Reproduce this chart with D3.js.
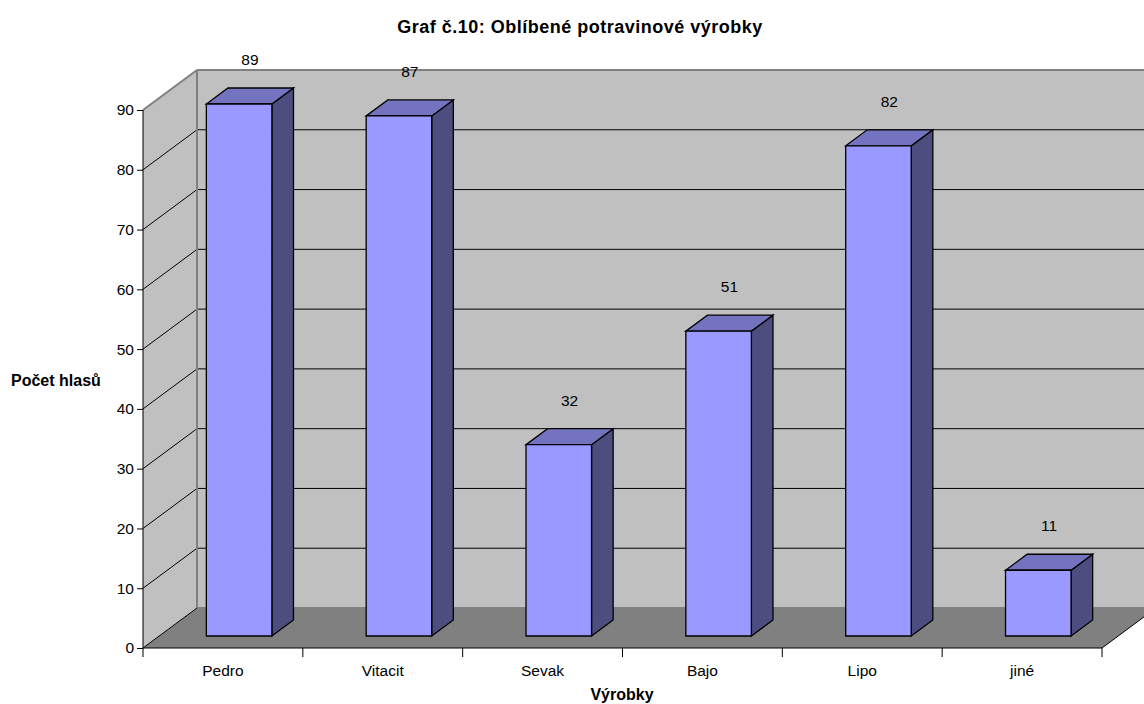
<!DOCTYPE html>
<html>
<head>
<meta charset="utf-8">
<script src="https://cdn.jsdelivr.net/npm/d3@7"></script>
<style>
  body { margin: 0; background: #fff; }
  text { font-family: "Liberation Sans", Arial, sans-serif; fill: #000; }
</style>
</head>
<body>
<div id="chart"></div>
<script>
// data
const categories = ["Pedro", "Vitacit", "Sevak", "Bajo", "Lipo", "jiné"];
const votes = [89, 87, 32, 51, 82, 11];
const yTicks = [0, 10, 20, 30, 40, 50, 60, 70, 80, 90];

const W = 1144, H = 704;
// 3d depth offset of the back wall
const depthX = 54, depthY = -40;
const fontSize = "15.5px";

const svg = d3.select("#chart").append("svg")
    .attr("width", W)
    .attr("height", H);

const x = d3.scaleBand()
    .domain(categories)
    .range([143, 1102])
    .padding(0);

const y = d3.scaleLinear()
    .domain([0, 90])
    .range([648, 110]);

// point at value v, front x position px, depth fraction t (0 = front, 1 = back)
function pt(px, v, t) {
  return [px + depthX * t, y(v) + depthY * t];
}
function poly(points) {
  return points.map(p => p.join(",")).join(" ");
}

const x0 = x.range()[0], x1 = x.range()[1];

// left side wall
svg.append("polygon")
    .attr("points", poly([pt(x0, 0, 0), pt(x0, 90, 0), pt(x0, 90, 1), pt(x0, 0, 1)]))
    .attr("fill", "#c0c0c0");

// back wall
svg.append("polygon")
    .attr("points", poly([pt(x0, 0, 1), pt(x0, 90, 1), pt(x1, 90, 1), pt(x1, 0, 1)]))
    .attr("fill", "#c0c0c0");

// floor
svg.append("polygon")
    .attr("points", poly([pt(x0, 0, 0), pt(x0, 0, 1), pt(x1, 0, 1), pt(x1, 0, 0)]))
    .attr("fill", "#808080");

// gridlines on back wall and side wall
yTicks.filter(d => d > 0).forEach(d => {
  const a = pt(x0, d, 1), b = pt(x1, d, 1), f = pt(x0, d, 0);
  svg.append("line")
      .attr("x1", a[0]).attr("y1", a[1])
      .attr("x2", b[0]).attr("y2", b[1])
      .attr("stroke", d === 90 ? "#808080" : "#000")
      .attr("stroke-width", d === 90 ? 2 : 1);
  svg.append("line")
      .attr("x1", f[0]).attr("y1", f[1])
      .attr("x2", a[0]).attr("y2", a[1])
      .attr("stroke", d === 90 ? "#808080" : "#000")
      .attr("stroke-width", d === 90 ? 2 : 1);
});

// wall edges
svg.append("line")
    .attr("x1", pt(x0, 0, 1)[0]).attr("y1", pt(x0, 0, 1)[1])
    .attr("x2", pt(x0, 90, 1)[0]).attr("y2", pt(x0, 90, 1)[1])
    .attr("stroke", "#808080").attr("stroke-width", 2);
svg.append("line")
    .attr("x1", pt(x0, 0, 1)[0]).attr("y1", pt(x0, 0, 1)[1])
    .attr("x2", pt(x1, 0, 1)[0]).attr("y2", pt(x1, 0, 1)[1])
    .attr("stroke", "#808080").attr("stroke-width", 2);

// floor edges
svg.append("line")
    .attr("x1", pt(x0, 0, 0)[0]).attr("y1", pt(x0, 0, 0)[1])
    .attr("x2", pt(x0, 0, 1)[0]).attr("y2", pt(x0, 0, 1)[1])
    .attr("stroke", "#000");
svg.append("line")
    .attr("x1", pt(x1, 0, 0)[0]).attr("y1", pt(x1, 0, 0)[1])
    .attr("x2", pt(x1, 0, 1)[0]).attr("y2", pt(x1, 0, 1)[1])
    .attr("stroke", "#000");

// y axis
svg.append("g")
    .attr("transform", "translate(" + x0 + ",0)")
    .call(d3.axisLeft(y).tickValues(yTicks).tickSize(6).tickPadding(3))
    .call(g => g.selectAll("text").style("font-size", fontSize).style("font-family", "Liberation Sans, Arial, sans-serif"))
    .call(g => g.select(".domain").attr("d", "M0," + y(90) + "V" + y(0)));

// x axis
svg.append("g")
    .attr("transform", "translate(0," + y(0) + ")")
    .call(d3.axisBottom(x).tickSize(0).tickPadding(17))
    .call(g => g.selectAll("text").style("font-size", fontSize).style("font-family", "Liberation Sans, Arial, sans-serif"))
    .call(g => g.select(".domain").attr("d", "M" + x0 + ",0H" + x1));

// category separator ticks
svg.append("g")
    .selectAll("line")
    .data(categories.concat(["end"]))
    .join("line")
    .attr("x1", (d, i) => i < categories.length ? x(d) : x1)
    .attr("x2", (d, i) => i < categories.length ? x(d) : x1)
    .attr("y1", y(0))
    .attr("y2", y(0) + 9)
    .attr("stroke", "#000");

// 3d bars
const barW = x.bandwidth() * 0.41;
const t0 = 0.3, t1 = 0.7;

const bars = svg.append("g")
    .selectAll("g")
    .data(votes)
    .join("g");

bars.each(function(v, i) {
  const g = d3.select(this);
  const cx = x(categories[i]) + x.bandwidth() / 2;
  const l = cx - barW / 2, r = cx + barW / 2;
  // right side
  g.append("polygon")
      .attr("points", poly([pt(r, 0, t0), pt(r, v, t0), pt(r, v, t1), pt(r, 0, t1)]))
      .attr("fill", "#4d4d80").attr("stroke", "#000").attr("stroke-width", 1.3);
  // top
  g.append("polygon")
      .attr("points", poly([pt(l, v, t0), pt(r, v, t0), pt(r, v, t1), pt(l, v, t1)]))
      .attr("fill", "#7373bf").attr("stroke", "#000").attr("stroke-width", 1.3);
  // front
  g.append("polygon")
      .attr("points", poly([pt(l, 0, t0), pt(l, v, t0), pt(r, v, t0), pt(r, 0, t0)]))
      .attr("fill", "#9999ff").attr("stroke", "#000").attr("stroke-width", 1.3);
  // value label
  const lp = pt(cx, v, 0.5);
  g.append("text")
      .attr("x", lp[0])
      .attr("y", lp[1] - 31)
      .attr("text-anchor", "middle")
      .style("font-size", fontSize)
      .text(v);
});

// titles
svg.append("text")
    .attr("x", 580)
    .attr("y", 33)
    .attr("text-anchor", "middle")
    .style("font-size", "18px")
    .style("letter-spacing", "0.5px")
    .style("font-weight", "bold")
    .text("Graf č.10: Oblíbené potravinové výrobky");

svg.append("text")
    .attr("x", 11)
    .attr("y", 386)
    .style("font-size", "16px")
    .style("font-weight", "bold")
    .text("Počet hlasů");

svg.append("text")
    .attr("x", 622)
    .attr("y", 700)
    .attr("text-anchor", "middle")
    .style("font-size", "16px")
    .style("font-weight", "bold")
    .text("Výrobky");
</script>
</body>
</html>
